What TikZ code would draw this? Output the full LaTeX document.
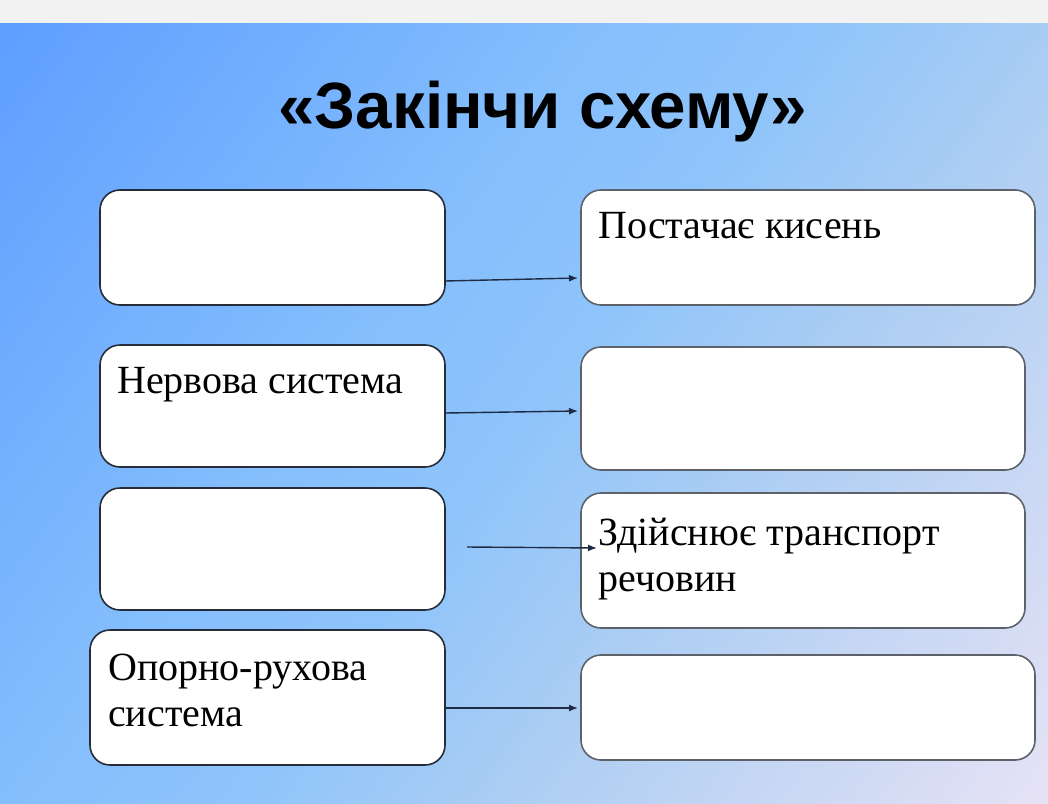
\documentclass[tikz,border=0pt]{standalone}
\usepackage{fontspec}
\setmainfont{Liberation Serif}
\newfontfamily\titlefont{Liberation Sans}
\usetikzlibrary{positioning,arrows.meta}

\definecolor{topbar}{HTML}{F2F2F3}
\definecolor{bga}{HTML}{5E9EFF}
\definecolor{bgb}{HTML}{84BEFD}
\definecolor{bgc}{HTML}{8EC4FB}
\definecolor{bgd}{HTML}{AACDF3}
\definecolor{bge}{HTML}{E6E2F5}
\definecolor{boxline}{HTML}{262C38}
\definecolor{arrline}{HTML}{1E2B45}

\pgfdeclarehorizontalshading{slidebg}{100bp}{color(0bp)=(bga); color(25bp)=(bga);
  color(43bp)=(bgb); color(50bp)=(bgc); color(58bp)=(bgd); color(75bp)=(bge); color(100bp)=(bge)}

\tikzset{
  box/.style={draw=boxline, line width=1.6pt, fill=white, rounded corners=20pt,
              inner sep=0pt, outer sep=0pt},
  boxtext/.style={font=\fontsize{40}{46}\selectfont, inner sep=0pt, anchor=north west, align=left},
  arr/.style={draw=arrline, line width=1.4pt, -{Latex[length=9pt,width=7pt]}},
}

\begin{document}
\begin{tikzpicture}[x=1pt,y=-1pt]
\useasboundingbox (0,0) rectangle (1048,803);
\fill[topbar] (0,0) rectangle (1048,23);
\begin{scope}
\clip (0,23) rectangle (1048,803);
\shade[shading=slidebg, shading angle=-36.66] (524-653,413-653) rectangle (524+653,413+653);
\end{scope}

\node[font=\titlefont\bfseries\fontsize{65.5}{72}\selectfont] (title) at (543,112) {«Закінчи схему»};

% left column
\node[box, minimum width=345pt, minimum height=115pt] (l1) at (272.5,247.5) {};
\node[box, minimum width=345pt, minimum height=122pt] (l2) at (272.5,406) {};
\node[box, minimum width=345pt, minimum height=122pt] (l3) at (272.5,549) {};
\node[box, minimum width=355pt, minimum height=135pt] (l4) at (267.5,697.5) {};

% right column
\node[box, draw=boxline!75, minimum width=454pt, minimum height=115pt] (r1) at (808,247.5) {};
\node[box, draw=boxline!75, minimum width=444pt, minimum height=123pt] (r2) at (803,408.5) {};
\node[box, draw=boxline!75, minimum width=444pt, minimum height=135pt] (r3) at (803,560.5) {};
\node[box, draw=boxline!75, minimum width=454pt, minimum height=105pt] (r4) at (808,707.5) {};

\node[boxtext] (t2) at ([xshift=17pt,yshift=-22pt]l2.north west) {Нервова система};
\node[boxtext] (t4) at ([xshift=18pt,yshift=-24pt]l4.north west) {Опорно-рухова\\система};
\node[boxtext] (s1) at ([xshift=17pt,yshift=-22pt]r1.north west) {Постачає кисень};
\node[boxtext] (s3) at ([xshift=17pt,yshift=-25pt]r3.north west) {Здійснює транспорт\\речовин};

\coordinate (a1) at ([yshift=-33.5pt]l1.east);
\coordinate (b1) at (578,278);
\coordinate (a2) at ([yshift=-7pt]l2.east);
\coordinate (b2) at (578,411);
\coordinate (a3) at (467,547);
\coordinate (b3) at (597,548);
\coordinate (a4) at ([yshift=-10.5pt]l4.east);
\coordinate (b4) at (578,708);

\draw[arr] (a1) -- (b1);
\draw[arr] (a2) -- (b2);
\draw[arr] (a3) -- (b3);
\draw[arr] (a4) -- (b4);
\end{tikzpicture}
\end{document}
